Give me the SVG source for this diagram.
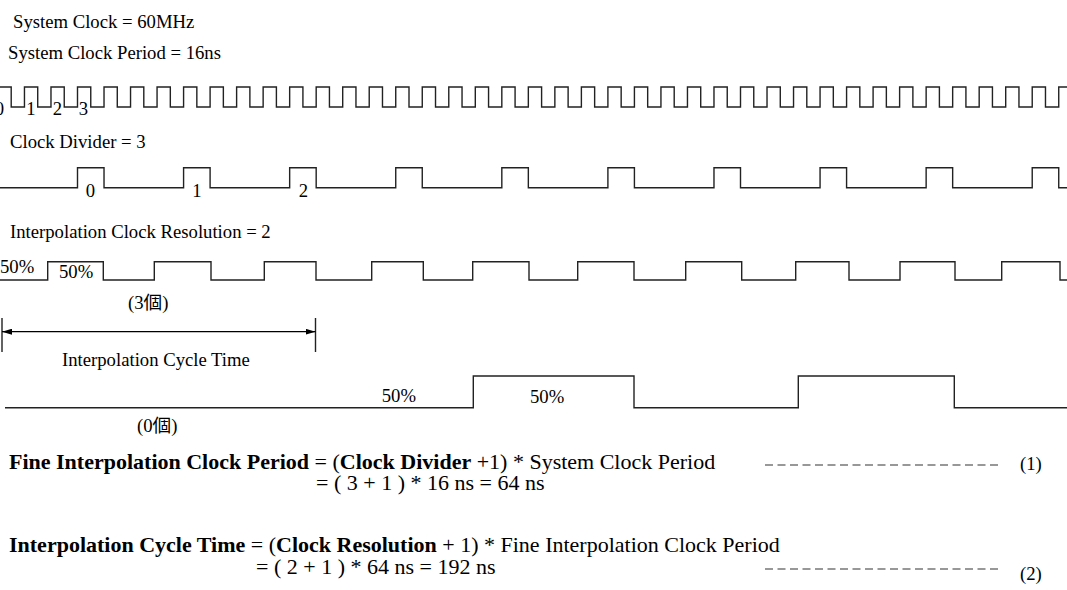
<svg xmlns="http://www.w3.org/2000/svg" width="1067" height="590" viewBox="0 0 1067 590">
<style>
.t{font-family:"Liberation Serif","Times New Roman","Noto Sans CJK TC",serif;font-size:18.7px;fill:#000}
.f{font-family:"Liberation Serif","Times New Roman",serif;font-size:22px;fill:#000}
.b{font-weight:bold}
.w{fill:none;stroke:#222;stroke-width:1.4}
.d{fill:none;stroke:#333;stroke-width:1.2;stroke-dasharray:8 4.5}
</style>
<defs>
<marker id="ah" viewBox="0 0 10 6" refX="10" refY="3" markerWidth="10" markerHeight="6" markerUnits="userSpaceOnUse" orient="auto-start-reverse">
<path d="M0,0 L10,3 L0,6 z" fill="#000"/>
</marker>
</defs>
<rect width="1067" height="590" fill="#fff"/>
<g id="sysclk">
<text class="t" x="13" y="28">System Clock = 60MHz</text>
<text class="t" x="8" y="59">System Clock Period = 16ns</text>
<path class="w" d="M0,87 H11.2 V107 H24.46 V87 H37.72 V107 H50.98 V87 H64.24 V107 H77.5 V87 H90.76 V107 H104.02 V87 H117.28 V107 H130.54 V87 H143.8 V107 H157.06 V87 H170.32 V107 H183.58 V87 H196.84 V107 H210.1 V87 H223.36 V107 H236.62 V87 H249.88 V107 H263.14 V87 H276.4 V107 H289.66 V87 H302.92 V107 H316.18 V87 H329.44 V107 H342.7 V87 H355.96 V107 H369.22 V87 H382.48 V107 H395.74 V87 H409 V107 H422.26 V87 H435.52 V107 H448.78 V87 H462.04 V107 H475.3 V87 H488.56 V107 H501.82 V87 H515.08 V107 H528.34 V87 H541.6 V107 H554.86 V87 H568.12 V107 H581.38 V87 H594.64 V107 H607.9 V87 H621.16 V107 H634.42 V87 H647.68 V107 H660.94 V87 H674.2 V107 H687.46 V87 H700.72 V107 H713.98 V87 H727.24 V107 H740.5 V87 H753.76 V107 H767.02 V87 H780.28 V107 H793.54 V87 H806.8 V107 H820.06 V87 H833.32 V107 H846.58 V87 H859.84 V107 H873.1 V87 H886.36 V107 H899.62 V87 H912.88 V107 H926.14 V87 H939.4 V107 H952.66 V87 H965.92 V107 H979.18 V87 H992.44 V107 H1005.7 V87 H1018.96 V107 H1032.22 V87 H1045.48 V107 H1058.74 V87 H1067"/>
<text class="t" x="4" y="115" text-anchor="end">0</text>
<text class="t" x="35.5" y="115" text-anchor="end">1</text>
<text class="t" x="62" y="115" text-anchor="end">2</text>
<text class="t" x="88" y="115" text-anchor="end">3</text>
</g>
<g id="divider">
<text class="t" x="10" y="148">Clock Divider = 3</text>
<path class="w" d="M0,187.7 H77.5 V167.7 H104.02 V187.7 H183.58 V167.7 H210.1 V187.7 H289.66 V167.7 H316.18 V187.7 H395.74 V167.7 H422.26 V187.7 H501.82 V167.7 H528.34 V187.7 H607.9 V167.7 H634.42 V187.7 H713.98 V167.7 H740.5 V187.7 H820.06 V167.7 H846.58 V187.7 H926.14 V167.7 H952.66 V187.7 H1032.22 V167.7 H1058.74 V187.7 H1067"/>
<text class="t" x="90.5" y="197" text-anchor="middle">0</text>
<text class="t" x="197" y="197" text-anchor="middle">1</text>
<text class="t" x="303.5" y="197" text-anchor="middle">2</text>
</g>
<g id="interp">
<text class="t" x="10" y="238">Interpolation Clock Resolution = 2</text>
<path class="w" d="M0,280 H47.7 V261.7 H103.3 V280 H154.3 V261.7 H211 V280 H264.3 V261.7 H316 V280 H371.7 V261.7 H423.3 V280 H472.7 V261.7 H529 V280 H577.7 V261.7 H634 V280 H685.7 V261.7 H741.7 V280 H795.7 V261.7 H849 V280 H900 V261.7 H955 V280 H1001.7 V261.7 H1060 V280 H1067"/>
<text class="t" x="0" y="273">50%</text>
<text class="t" x="59" y="278">50%</text>
<text class="t" x="128" y="309">(3個)</text>
</g>
<g id="cycle">
<path class="w" d="M2,318 V352 M315.5,318 V352"/>
<text class="t" x="62" y="366">Interpolation Cycle Time</text>
</g>
<g id="cyclewave">
<path class="w" d="M5,407.7 H473.3 V376 H634 V407.7 H798.3 V376 H954.3 V407.7 H1067"/>
<text class="t" x="381.7" y="401.7">50%</text>
<text class="t" x="530" y="403">50%</text>
<text class="t" x="137" y="432">(0個)</text>
</g>
<g id="connectors">
<line x1="2" y1="331.7" x2="315.5" y2="331.7" stroke="#000" stroke-width="1.3" marker-start="url(#ah)" marker-end="url(#ah)"/>
<line class="d" x1="765" y1="465" x2="1001" y2="465"/>
<line class="d" x1="765" y1="569" x2="1001" y2="569"/>
</g>
<g id="formula1">
<text class="f" x="9" y="469"><tspan class="b">Fine Interpolation Clock Period</tspan> = (<tspan class="b">Clock Divider</tspan> +1) * System Clock Period</text>
<text class="f" x="316" y="490">= ( 3 + 1 ) * 16 ns = 64 ns</text>
<text class="t" x="1020" y="470">(1)</text>
</g>
<g id="formula2">
<text class="f" x="9" y="552"><tspan class="b">Interpolation Cycle Time</tspan> = (<tspan class="b">Clock Resolution</tspan> + 1) * Fine Interpolation Clock Period</text>
<text class="f" x="256" y="574">= ( 2 + 1 ) * 64 ns = 192 ns</text>
<text class="t" x="1020" y="580">(2)</text>
</g>
</svg>
